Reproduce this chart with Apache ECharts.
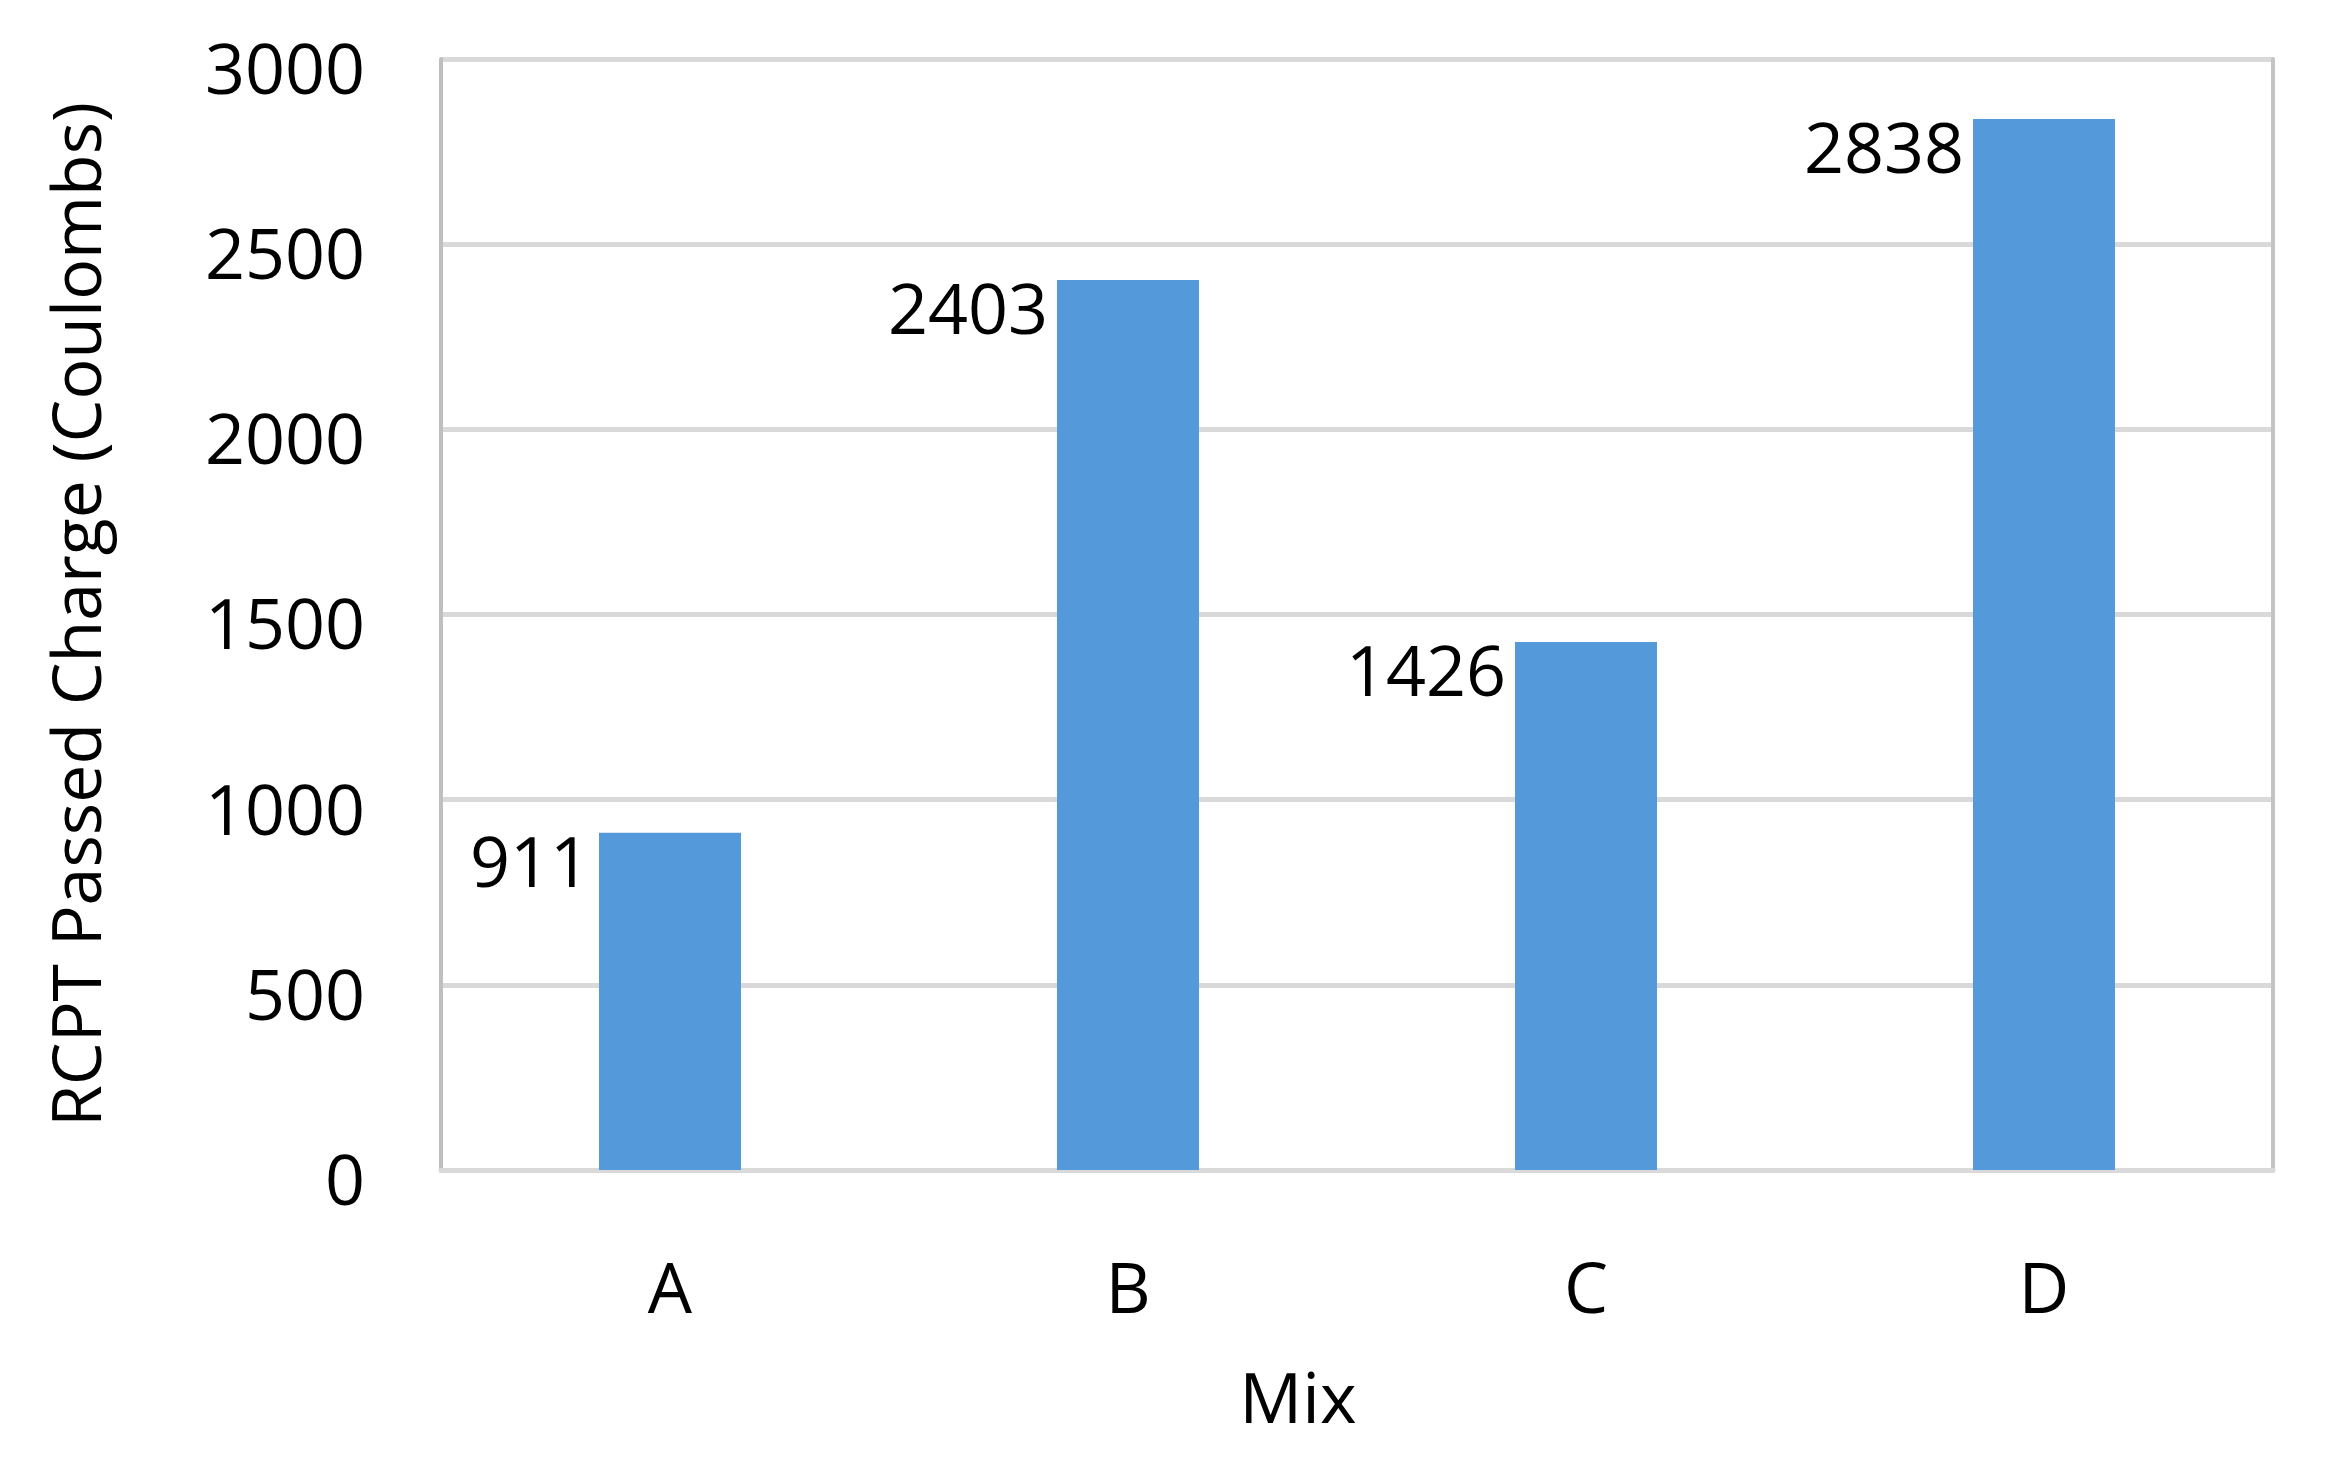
<!DOCTYPE html>
<html>
<head>
<meta charset="utf-8">
<script src="https://cdn.jsdelivr.net/npm/echarts@6/dist/echarts.min.js"></script>
<style>
  html, body { margin: 0; padding: 0; background: #fff; }
  #chart { width: 2326px; height: 1459px; }
</style>
</head>
<body>
<div id="chart"></div>
<script>
const mixes = ['A', 'B', 'C', 'D']
const passedCharge = [911, 2403, 1426, 2838]
const yTicks = [0, 500, 1000, 1500, 2000, 2500, 3000]

const font = '"Open Sans", "Noto Sans", sans-serif'
const chart = echarts.init(document.getElementById('chart'))

const option = {
  animation: false,
  grid: { left: 441, right: 53, top: 59, bottom: 289 },
  xAxis: {
    type: 'category',
    data: mixes,
    name: 'Mix',
    nameLocation: 'middle',
    nameGap: 198,
    nameTextStyle: { color: '#000', fontSize: 70, fontFamily: font, padding: [0, 118, 0, 0] },
    axisLine: { lineStyle: { color: '#d9d9d9', width: 5 } },
    axisTick: { show: false },
    axisLabel: { color: '#000', fontSize: 70, fontFamily: font, margin: 88 },
  },
  yAxis: [
    {
      type: 'value',
      min: yTicks[0],
      max: yTicks[yTicks.length - 1],
      interval: 500,
      name: 'RCPT Passed Charge (Coulombs)',
      nameLocation: 'middle',
      nameGap: 325,
      nameTextStyle: { color: '#000', fontSize: 68, fontFamily: font },
      axisLine: { show: true, lineStyle: { color: '#bfbfbf', width: 4 } },
      axisTick: { show: false },
      axisLabel: {
        color: '#000', fontSize: 70, fontFamily: font, margin: 76,
        verticalAlign: 'top', lineHeight: 30,
        formatter: (v) => String(v),
      },
      splitLine: { lineStyle: { color: '#d9d9d9', width: 5 } },
    },
    {
      type: 'value',
      position: 'right',
      min: yTicks[0],
      max: yTicks[yTicks.length - 1],
      interval: 500,
      axisLine: { show: true, lineStyle: { color: '#c4c4c4', width: 4 } },
      axisTick: { show: false },
      axisLabel: { show: false },
      splitLine: { show: false },
    },
  ],
  series: [
    {
      type: 'bar',
      data: passedCharge,
      barWidth: '31%',
      itemStyle: { color: '#5499DA' },
      label: {
        show: true,
        position: [-9, 34],
        align: 'right',
        verticalAlign: 'middle',
        color: '#000',
        fontSize: 70,
        fontFamily: font,
      },
    },
  ],
}

chart.setOption(option)
</script>
</body>
</html>
